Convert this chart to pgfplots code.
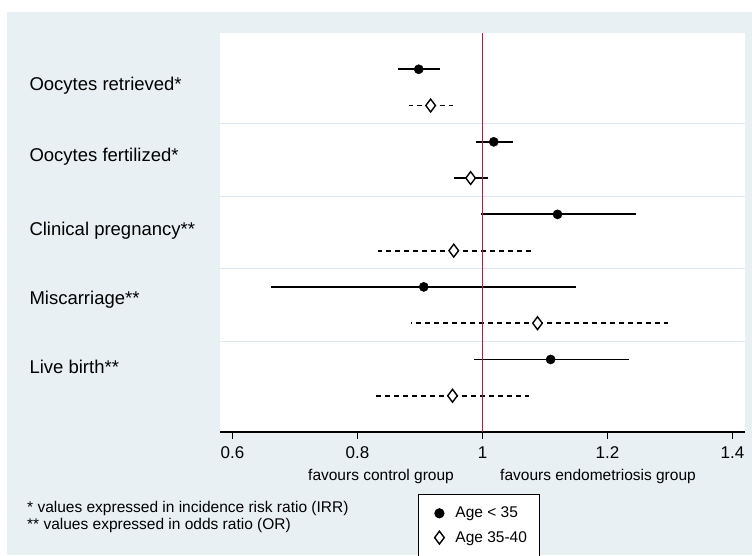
\documentclass[border=0pt]{standalone}
\usepackage{pgfplots}
\pgfplotsset{compat=1.18}
\usepackage{pgfplotstable}
\usepackage{fontspec}
\setmainfont{Liberation Sans}
\definecolor{bg}{HTML}{E8F0F3}
\definecolor{sep}{HTML}{DCE8EE}
\definecolor{redline}{HTML}{D0103A}

\pgfplotstableread{
x y lo hi
0.898 10 0.864 0.932
1.018 8 0.990 1.048
1.120 6 0.997 1.245
0.906 4 0.662 1.150
1.109 2 0.986 1.234
}\younger
\pgfplotstableread{
x y lo hi
0.917 9 0.882 0.952
0.954 5 0.832 1.077
1.088 3 0.885 1.296
0.952 1 0.830 1.074
}\older
\pgfplotstableread{
x y lo hi
0.981 7 0.955 1.008
}\olderfert

\begin{document}
\begin{tikzpicture}[x=1pt,y=1pt]
\clip (0,0) rectangle (752,555);
\fill[white] (0,0) rectangle (752,555);
\fill[bg] (7,0) rectangle (752,543);
\begin{axis}[
  at={(220pt,123pt)}, anchor=south west,
  scale only axis, width=525pt, height=399pt,
  xmin=0.58, xmax=1.42, ymin=0, ymax=11,
  axis background/.style={fill=white},
  axis lines*=left,
  y axis line style={draw=none},
  x axis line style={line width=1.3pt},
  tick align=outside,
  xtick={0.6,0.8,1,1.2,1.4},
  xticklabels={0.6,0.8,1,1.2,1.4},
  major tick length=7pt,
  xtick style={line width=1.3pt, black},
  xticklabel style={font=\fontsize{17}{20}\selectfont, yshift=-4pt},
  ytick={9.55,7.6,5.55,3.65,1.8},
  yticklabels={Oocytes retrieved*,Oocytes fertilized*,Clinical pregnancy**,Miscarriage**,Live birth**},
  ytick style={draw=none},
  yticklabel style={font=\fontsize{18.5}{22}\selectfont, anchor=west, xshift=-187pt},
  extra y ticks={2.5,4.5,6.5,8.5},
  extra y tick labels={},
  extra y tick style={grid=major, major grid style={sep, line width=1.2pt}, tick style={draw=none}},
  legend style={at={(0.377,-0.1545)}, anchor=north west, draw=black, line width=1pt,
    fill=white, font=\fontsize{15.5}{18}\selectfont, inner xsep=8pt, inner ysep=11pt,
    row sep=8pt, nodes={inner xsep=5pt}},
  legend image code/.code={\path[draw=none,fill=none] (-13pt,-1pt) rectangle (11pt,1pt); \draw[#1] plot coordinates {(0pt,0pt)};},
  legend cell align=left,
  clip=false,
]
\addplot[forget plot, only marks, mark=*, mark size=4.6pt, black,
  error bars/.cd, x dir=both, x explicit, error mark=none,
  error bar style={line width=1.9pt, black}]
  table[x=x, y=y, x error plus expr=\thisrow{hi}-\thisrow{x}, x error minus expr=\thisrow{x}-\thisrow{lo}] {\younger};
\addplot[forget plot, only marks, mark=diamond*, mark size=6.4pt, black, mark options={fill=white, line width=1.4pt, solid},
  error bars/.cd, x dir=both, x explicit, error mark=none,
  error bar style={line width=1.8pt, black, dash pattern=on 5pt off 4pt}]
  table[x=x, y=y, x error plus expr=\thisrow{hi}-\thisrow{x}, x error minus expr=\thisrow{x}-\thisrow{lo}] {\older};
\addplot[forget plot, only marks, mark=diamond*, mark size=6.4pt, black, mark options={fill=white, line width=1.4pt},
  error bars/.cd, x dir=both, x explicit, error mark=none,
  error bar style={line width=1.9pt, black}]
  table[x=x, y=y, x error plus expr=\thisrow{hi}-\thisrow{x}, x error minus expr=\thisrow{x}-\thisrow{lo}] {\olderfert};
\addlegendimage{only marks, mark=*, mark size=4.6pt, black}
\addlegendentry{Age < 35}
\addlegendimage{only marks, mark=diamond*, mark size=6.4pt, black, mark options={fill=white, line width=1.4pt}}
\addlegendentry{Age 35-40}
\draw[redline, line width=1.4pt] (axis cs:1,0) -- (axis cs:1,11);
\end{axis}
\node[font=\fontsize{15.5}{18}\selectfont] at (381,79) {favours control group};
\node[font=\fontsize{15.5}{18}\selectfont] at (598,79) {favours endometriosis group};
\node[font=\fontsize{15.5}{18}\selectfont, anchor=west, inner sep=0pt] at (27,47) {* values expressed in incidence risk ratio (IRR)};
\node[font=\fontsize{15.5}{18}\selectfont, anchor=west, inner sep=0pt] at (27,30) {** values expressed in odds ratio (OR)};
\end{tikzpicture}
\end{document}
